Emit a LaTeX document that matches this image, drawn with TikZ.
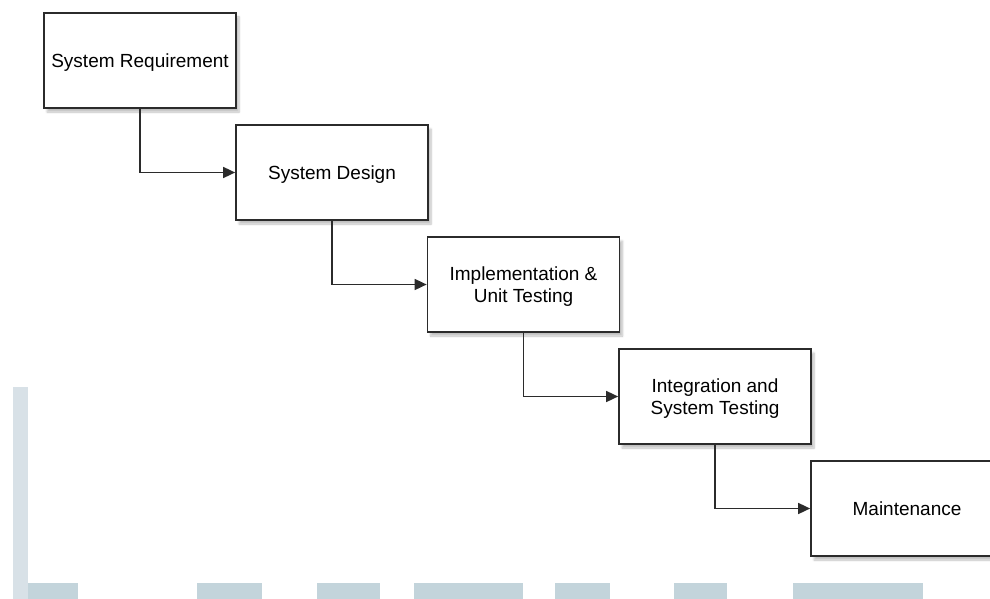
\documentclass[tikz,border=0pt]{standalone}
\usepackage{fontspec}
\setmainfont{Liberation Sans}
\usetikzlibrary{arrows.meta, positioning, shadows.blur}
\definecolor{wfline}{HTML}{2B2B2B}
\definecolor{wfshade}{HTML}{C3D4DB}
\definecolor{wfpale}{HTML}{D8E1E7}

\begin{document}
\begin{tikzpicture}[x=1pt, y=-1pt,
  phase/.style={draw=wfline, line width=1.7pt, fill=white, minimum width=192pt, minimum height=95pt,
    align=center, inner sep=0pt, text depth=0pt, font=\fontsize{19}{22}\selectfont,
    blur shadow={shadow xshift=3pt, shadow yshift=-4pt, shadow blur steps=6, shadow opacity=25}},
  flow/.style={draw=wfline, line width=1.6pt, -{Triangle[length=12pt, width=11pt]}}]
\useasboundingbox (0,0) rectangle (990,599);
\clip (0,0) rectangle (990,599);

% Faint marks along the page edge
\fill[wfpale] (13,387) rectangle (28,599);
\foreach \l/\r in {28/78, 197/262, 317/380, 414/523, 555/610, 674/727, 793/923} {
  \fill[wfshade] (\l,583) rectangle (\r,599);
}

% Phases
\node[phase] (req) at (140, 60.5) {System Requirement};
\node[phase] (des) at (332, 172.5) {System Design};
\node[phase] (imp) at (523.5, 284.5) {Implementation \&\\Unit Testing};
\node[phase] (int) at (715, 396.5) {Integration and\\System Testing};
\node[phase] (mnt) at (907, 508.5) {Maintenance};

% Steps down the cascade
\foreach \a/\b in {req/des, des/imp, imp/int, int/mnt} {
  \draw[flow] (\a.south) |- (\b.west);
}

\end{tikzpicture}
\end{document}
